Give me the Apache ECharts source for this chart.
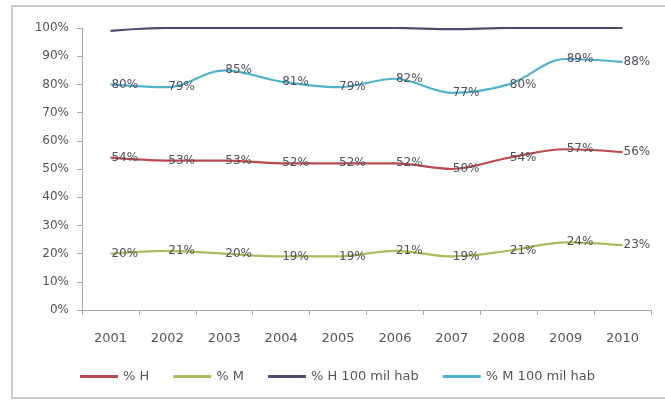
<!DOCTYPE html>
<html>
<head>
<meta charset="utf-8">
<script src="https://cdn.jsdelivr.net/npm/echarts@6/dist/echarts.min.js"></script>
<style>
  html, body { margin: 0; padding: 0; background: #ffffff; }
  #chart { width: 665px; height: 400px; }
</style>
</head>
<body>
<div id="chart"></div>
<script>
// Years on the category axis
const years = ['2001', '2002', '2003', '2004', '2005', '2006', '2007', '2008', '2009', '2010'];

// Shares per year (percent)
const pctH = [54, 53, 53, 52, 52, 52, 50, 54, 57, 56];
const pctM = [20, 21, 20, 19, 19, 21, 19, 21, 24, 23];
const pctH100 = [99, 100, 100, 100, 100, 100, 99.6, 100, 100, 100];
const pctM100 = [80, 79, 85, 81, 79, 82, 77, 80, 89, 88];

// Y-axis ticks (percent)
const yTicks = [0, 10, 20, 30, 40, 50, 60, 70, 80, 90, 100];

const seriesNames = ['% H', '% M', '% H 100 mil hab', '% M 100 mil hab'];
const seriesColors = ['#b9494a', '#a8bd5c', '#4d4c6c', '#4fb2cc'];

const textFont = 'DejaVu Sans';

function lineSeries(name, data, color, withLabels) {
  return {
    name: name,
    type: 'line',
    data: data,
    smooth: 0.35,
    showSymbol: true,
    symbol: 'circle',
    symbolSize: 0.01,
    lineStyle: { color: color, width: 2.2 },
    itemStyle: { color: color },
    label: {
      show: withLabels,
      position: 'right',
      distance: 1,
      formatter: p => p.value + '%',
      color: '#4f5158',
      fontFamily: textFont,
      fontSize: 12
    },
    emphasis: { disabled: true }
  };
}

const chart = echarts.init(document.getElementById('chart'), null, { renderer: 'canvas' });

chart.setOption({
  animation: false,
  backgroundColor: '#ffffff',
  graphic: [{
    type: 'rect',
    shape: { x: 12, y: 6, width: 660, height: 392 },
    style: { fill: 'none', stroke: '#bdbdbd', lineWidth: 1.5 },
    silent: true,
    z: -1
  }],
  grid: { left: 82, right: 14, top: 28, bottom: 90, containLabel: false },
  legend: {
    data: seriesNames,
    left: 75,
    top: 365,
    itemWidth: 38,
    itemHeight: 3,
    itemGap: 24,
    icon: 'rect',
    textStyle: { color: '#555555', fontFamily: textFont, fontSize: 13 }
  },
  xAxis: {
    type: 'category',
    data: years,
    boundaryGap: true,
    axisLine: { lineStyle: { color: '#a6a6a6', width: 1 } },
    axisTick: { show: true, alignWithLabel: false, length: 5, lineStyle: { color: '#a6a6a6' } },
    axisLabel: { color: '#555555', fontFamily: textFont, fontSize: 13, margin: 22 },
    splitLine: { show: false }
  },
  yAxis: {
    type: 'value',
    min: yTicks[0],
    max: yTicks[yTicks.length - 1],
    interval: yTicks[1] - yTicks[0],
    axisLine: { show: true, lineStyle: { color: '#a6a6a6', width: 1 } },
    axisTick: { show: true, length: 5, lineStyle: { color: '#a6a6a6' } },
    axisLabel: { color: '#555555', fontFamily: textFont, fontSize: 12, margin: 13, formatter: v => v + '%' },
    splitLine: { show: false }
  },
  series: [
    lineSeries(seriesNames[0], pctH, seriesColors[0], true),
    lineSeries(seriesNames[1], pctM, seriesColors[1], true),
    lineSeries(seriesNames[2], pctH100, seriesColors[2], false),
    lineSeries(seriesNames[3], pctM100, seriesColors[3], true)
  ]
});
</script>
</body>
</html>
